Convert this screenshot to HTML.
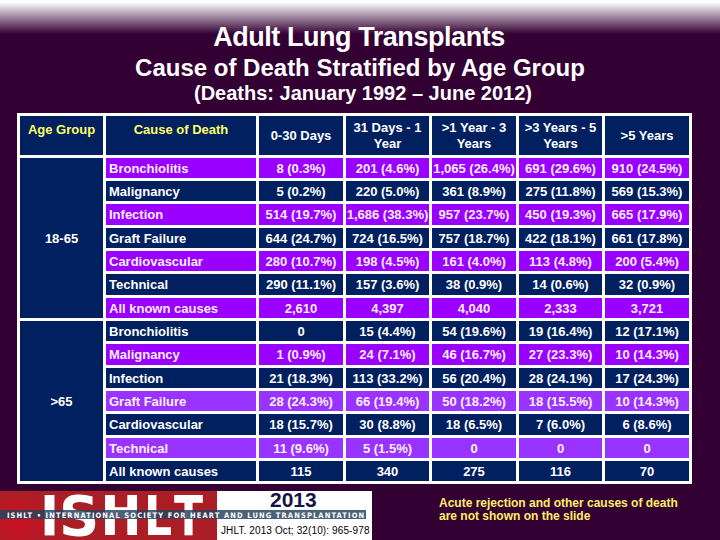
<!DOCTYPE html>
<html><head><meta charset="utf-8"><title>Adult Lung Transplants</title>
<style>
*{margin:0;padding:0;box-sizing:border-box}
html,body{width:720px;height:540px;overflow:hidden}
body{position:relative;background:#330033;font-family:"Liberation Sans",Arial,sans-serif;color:#fff}
#topgrad{position:absolute;left:0;top:0;width:720px;height:36px;background:linear-gradient(to bottom,#ffffff 0px,#ffffff 2px,#330033 34px,#330033 36px)}
.t{position:absolute;left:0;width:720px;text-align:center;white-space:nowrap;color:#fff}
#t1{top:22px;left:-1px;font-size:27px;font-weight:bold;line-height:30px;letter-spacing:-0.45px}
#t2{top:54px;font-size:24px;font-weight:bold;line-height:28px}
#t3{top:82px;left:3px;font-size:20px;font-weight:bold;line-height:22px}
#tbl{position:absolute;left:17px;top:113px;width:675px;height:371px;background:#fff}
.c{position:absolute;display:flex;font-size:13px;font-weight:bold;white-space:nowrap;color:#fff}
.c span{display:block}
.hy{color:#ffff66;justify-content:center;align-items:flex-start;line-height:15px;padding-top:6px}
.hw{justify-content:center;align-items:center;text-align:center;line-height:16px}
.ag{justify-content:center;align-items:center;line-height:15px}
.cz{justify-content:flex-start;align-items:center;padding-left:3px;line-height:15px}
.dv{justify-content:center;align-items:center;line-height:15px;overflow:visible}
.pk{color:#ffeeff}
#logo{position:absolute;left:0;top:490.5px;width:217px;height:50px;background:radial-gradient(ellipse 40px 30px at 18px 30px,rgba(220,10,35,0.7),rgba(220,10,35,0) 100%),#ab1e25;overflow:hidden}
#logo .L{position:absolute;top:-1.3px;font-family:"DejaVu Sans Condensed","DejaVu Sans",sans-serif;font-stretch:condensed;font-size:55px;font-weight:bold;color:#fff;line-height:55px;transform-origin:0 0}
#wbox{position:absolute;left:217px;top:490.5px;width:155px;height:50px;background:#fff}
#band{position:absolute;left:0;top:510.4px;width:366px;height:8.4px;background:rgba(40,66,93,0.83)}
#bandtxt{position:absolute;left:7px;top:510.6px;height:9px;line-height:9px;font-family:"DejaVu Sans Condensed","DejaVu Sans",sans-serif;font-stretch:condensed;font-size:7.5px;font-weight:bold;color:#fff;letter-spacing:1.11px;white-space:nowrap}
#yr{position:absolute;left:270px;top:489px;font-size:21px;font-weight:bold;color:#14144a;line-height:22px}
#jh{position:absolute;left:221px;top:524.8px;font-size:10px;color:#000;line-height:12px;letter-spacing:0.12px;white-space:nowrap}
#note{position:absolute;left:439px;top:497px;font-size:12px;font-weight:bold;color:#ffee66;line-height:13px;white-space:nowrap}
</style></head><body>
<div id="topgrad"></div>
<div class="t" id="t1">Adult Lung Transplants</div>
<div class="t" id="t2">Cause of Death Stratified by Age Group</div>
<div class="t" id="t3">(Deaths: January 1992 &ndash; June 2012)</div>
<div id="tbl"></div>
<div class="c hy" style="left:20px;top:116px;width:83px;height:39px;background:#00205f"><span>Age Group</span></div>
<div class="c hy" style="left:106px;top:116px;width:150px;height:39px;background:#00205f"><span>Cause of Death</span></div>
<div class="c hw" style="left:259px;top:116px;width:84px;height:39px;background:#00205f"><span>0-30 Days</span></div>
<div class="c hw" style="left:346px;top:116px;width:83px;height:39px;background:#00205f"><span>31 Days - 1<br>Year</span></div>
<div class="c hw" style="left:432px;top:116px;width:84px;height:39px;background:#00205f"><span>&gt;1 Year - 3<br>Years</span></div>
<div class="c hw" style="left:519px;top:116px;width:83px;height:39px;background:#00205f"><span>&gt;3 Years - 5<br>Years</span></div>
<div class="c hw" style="left:605px;top:116px;width:84px;height:39px;background:#00205f"><span>&gt;5 Years</span></div>
<div class="c ag" style="left:20px;top:158px;width:83px;height:160px;background:#00205f"><span>18-65</span></div>
<div class="c ag" style="left:20px;top:321px;width:83px;height:160px;background:#00205f"><span>&gt;65</span></div>
<div class="c cz pk" style="left:106px;top:158px;width:150px;height:20px;background:#9900ff"><span>Bronchiolitis</span></div>
<div class="c dv pk" style="left:259px;top:158px;width:84px;height:20px;background:#9900ff"><span>8 (0.3%)</span></div>
<div class="c dv pk" style="left:346px;top:158px;width:83px;height:20px;background:#9900ff"><span>201 (4.6%)</span></div>
<div class="c dv pk" style="left:432px;top:158px;width:84px;height:20px;background:#9900ff"><span>1,065 (26.4%)</span></div>
<div class="c dv pk" style="left:519px;top:158px;width:83px;height:20px;background:#9900ff"><span>691 (29.6%)</span></div>
<div class="c dv pk" style="left:605px;top:158px;width:84px;height:20px;background:#9900ff"><span>910 (24.5%)</span></div>
<div class="c cz" style="left:106px;top:181px;width:150px;height:20px;background:#00205f"><span>Malignancy</span></div>
<div class="c dv" style="left:259px;top:181px;width:84px;height:20px;background:#00205f"><span>5 (0.2%)</span></div>
<div class="c dv" style="left:346px;top:181px;width:83px;height:20px;background:#00205f"><span>220 (5.0%)</span></div>
<div class="c dv" style="left:432px;top:181px;width:84px;height:20px;background:#00205f"><span>361 (8.9%)</span></div>
<div class="c dv" style="left:519px;top:181px;width:83px;height:20px;background:#00205f"><span>275 (11.8%)</span></div>
<div class="c dv" style="left:605px;top:181px;width:84px;height:20px;background:#00205f"><span>569 (15.3%)</span></div>
<div class="c cz pk" style="left:106px;top:204px;width:150px;height:21px;background:#9900ff"><span>Infection</span></div>
<div class="c dv pk" style="left:259px;top:204px;width:84px;height:21px;background:#9900ff"><span>514 (19.7%)</span></div>
<div class="c dv pk" style="left:346px;top:204px;width:83px;height:21px;background:#9900ff"><span>1,686 (38.3%)</span></div>
<div class="c dv pk" style="left:432px;top:204px;width:84px;height:21px;background:#9900ff"><span>957 (23.7%)</span></div>
<div class="c dv pk" style="left:519px;top:204px;width:83px;height:21px;background:#9900ff"><span>450 (19.3%)</span></div>
<div class="c dv pk" style="left:605px;top:204px;width:84px;height:21px;background:#9900ff"><span>665 (17.9%)</span></div>
<div class="c cz" style="left:106px;top:228px;width:150px;height:20px;background:#00205f"><span>Graft Failure</span></div>
<div class="c dv" style="left:259px;top:228px;width:84px;height:20px;background:#00205f"><span>644 (24.7%)</span></div>
<div class="c dv" style="left:346px;top:228px;width:83px;height:20px;background:#00205f"><span>724 (16.5%)</span></div>
<div class="c dv" style="left:432px;top:228px;width:84px;height:20px;background:#00205f"><span>757 (18.7%)</span></div>
<div class="c dv" style="left:519px;top:228px;width:83px;height:20px;background:#00205f"><span>422 (18.1%)</span></div>
<div class="c dv" style="left:605px;top:228px;width:84px;height:20px;background:#00205f"><span>661 (17.8%)</span></div>
<div class="c cz pk" style="left:106px;top:251px;width:150px;height:20px;background:#9900ff"><span>Cardiovascular</span></div>
<div class="c dv pk" style="left:259px;top:251px;width:84px;height:20px;background:#9900ff"><span>280 (10.7%)</span></div>
<div class="c dv pk" style="left:346px;top:251px;width:83px;height:20px;background:#9900ff"><span>198 (4.5%)</span></div>
<div class="c dv pk" style="left:432px;top:251px;width:84px;height:20px;background:#9900ff"><span>161 (4.0%)</span></div>
<div class="c dv pk" style="left:519px;top:251px;width:83px;height:20px;background:#9900ff"><span>113 (4.8%)</span></div>
<div class="c dv pk" style="left:605px;top:251px;width:84px;height:20px;background:#9900ff"><span>200 (5.4%)</span></div>
<div class="c cz" style="left:106px;top:274px;width:150px;height:21px;background:#00205f"><span>Technical</span></div>
<div class="c dv" style="left:259px;top:274px;width:84px;height:21px;background:#00205f"><span>290 (11.1%)</span></div>
<div class="c dv" style="left:346px;top:274px;width:83px;height:21px;background:#00205f"><span>157 (3.6%)</span></div>
<div class="c dv" style="left:432px;top:274px;width:84px;height:21px;background:#00205f"><span>38 (0.9%)</span></div>
<div class="c dv" style="left:519px;top:274px;width:83px;height:21px;background:#00205f"><span>14 (0.6%)</span></div>
<div class="c dv" style="left:605px;top:274px;width:84px;height:21px;background:#00205f"><span>32 (0.9%)</span></div>
<div class="c cz pk" style="left:106px;top:298px;width:150px;height:20px;background:#9900ff"><span>All known causes</span></div>
<div class="c dv pk" style="left:259px;top:298px;width:84px;height:20px;background:#9900ff"><span>2,610</span></div>
<div class="c dv pk" style="left:346px;top:298px;width:83px;height:20px;background:#9900ff"><span>4,397</span></div>
<div class="c dv pk" style="left:432px;top:298px;width:84px;height:20px;background:#9900ff"><span>4,040</span></div>
<div class="c dv pk" style="left:519px;top:298px;width:83px;height:20px;background:#9900ff"><span>2,333</span></div>
<div class="c dv pk" style="left:605px;top:298px;width:84px;height:20px;background:#9900ff"><span>3,721</span></div>
<div class="c cz" style="left:106px;top:321px;width:150px;height:20px;background:#00205f"><span>Bronchiolitis</span></div>
<div class="c dv" style="left:259px;top:321px;width:84px;height:20px;background:#00205f"><span>0</span></div>
<div class="c dv" style="left:346px;top:321px;width:83px;height:20px;background:#00205f"><span>15 (4.4%)</span></div>
<div class="c dv" style="left:432px;top:321px;width:84px;height:20px;background:#00205f"><span>54 (19.6%)</span></div>
<div class="c dv" style="left:519px;top:321px;width:83px;height:20px;background:#00205f"><span>19 (16.4%)</span></div>
<div class="c dv" style="left:605px;top:321px;width:84px;height:20px;background:#00205f"><span>12 (17.1%)</span></div>
<div class="c cz pk" style="left:106px;top:344px;width:150px;height:21px;background:#9900ff"><span>Malignancy</span></div>
<div class="c dv pk" style="left:259px;top:344px;width:84px;height:21px;background:#9900ff"><span>1 (0.9%)</span></div>
<div class="c dv pk" style="left:346px;top:344px;width:83px;height:21px;background:#9900ff"><span>24 (7.1%)</span></div>
<div class="c dv pk" style="left:432px;top:344px;width:84px;height:21px;background:#9900ff"><span>46 (16.7%)</span></div>
<div class="c dv pk" style="left:519px;top:344px;width:83px;height:21px;background:#9900ff"><span>27 (23.3%)</span></div>
<div class="c dv pk" style="left:605px;top:344px;width:84px;height:21px;background:#9900ff"><span>10 (14.3%)</span></div>
<div class="c cz" style="left:106px;top:368px;width:150px;height:20px;background:#00205f"><span>Infection</span></div>
<div class="c dv" style="left:259px;top:368px;width:84px;height:20px;background:#00205f"><span>21 (18.3%)</span></div>
<div class="c dv" style="left:346px;top:368px;width:83px;height:20px;background:#00205f"><span>113 (33.2%)</span></div>
<div class="c dv" style="left:432px;top:368px;width:84px;height:20px;background:#00205f"><span>56 (20.4%)</span></div>
<div class="c dv" style="left:519px;top:368px;width:83px;height:20px;background:#00205f"><span>28 (24.1%)</span></div>
<div class="c dv" style="left:605px;top:368px;width:84px;height:20px;background:#00205f"><span>17 (24.3%)</span></div>
<div class="c cz pk" style="left:106px;top:391px;width:150px;height:20px;background:#9933ff"><span>Graft Failure</span></div>
<div class="c dv pk" style="left:259px;top:391px;width:84px;height:20px;background:#9933ff"><span>28 (24.3%)</span></div>
<div class="c dv pk" style="left:346px;top:391px;width:83px;height:20px;background:#9933ff"><span>66 (19.4%)</span></div>
<div class="c dv pk" style="left:432px;top:391px;width:84px;height:20px;background:#9933ff"><span>50 (18.2%)</span></div>
<div class="c dv pk" style="left:519px;top:391px;width:83px;height:20px;background:#9933ff"><span>18 (15.5%)</span></div>
<div class="c dv pk" style="left:605px;top:391px;width:84px;height:20px;background:#9933ff"><span>10 (14.3%)</span></div>
<div class="c cz" style="left:106px;top:414px;width:150px;height:21px;background:#00205f"><span>Cardiovascular</span></div>
<div class="c dv" style="left:259px;top:414px;width:84px;height:21px;background:#00205f"><span>18 (15.7%)</span></div>
<div class="c dv" style="left:346px;top:414px;width:83px;height:21px;background:#00205f"><span>30 (8.8%)</span></div>
<div class="c dv" style="left:432px;top:414px;width:84px;height:21px;background:#00205f"><span>18 (6.5%)</span></div>
<div class="c dv" style="left:519px;top:414px;width:83px;height:21px;background:#00205f"><span>7 (6.0%)</span></div>
<div class="c dv" style="left:605px;top:414px;width:84px;height:21px;background:#00205f"><span>6 (8.6%)</span></div>
<div class="c cz pk" style="left:106px;top:438px;width:150px;height:20px;background:#9933ff"><span>Technical</span></div>
<div class="c dv pk" style="left:259px;top:438px;width:84px;height:20px;background:#9933ff"><span>11 (9.6%)</span></div>
<div class="c dv pk" style="left:346px;top:438px;width:83px;height:20px;background:#9933ff"><span>5 (1.5%)</span></div>
<div class="c dv pk" style="left:432px;top:438px;width:84px;height:20px;background:#9933ff"><span>0</span></div>
<div class="c dv pk" style="left:519px;top:438px;width:83px;height:20px;background:#9933ff"><span>0</span></div>
<div class="c dv pk" style="left:605px;top:438px;width:84px;height:20px;background:#9933ff"><span>0</span></div>
<div class="c cz" style="left:106px;top:461px;width:150px;height:20px;background:#00205f"><span>All known causes</span></div>
<div class="c dv" style="left:259px;top:461px;width:84px;height:20px;background:#00205f"><span>115</span></div>
<div class="c dv" style="left:346px;top:461px;width:83px;height:20px;background:#00205f"><span>340</span></div>
<div class="c dv" style="left:432px;top:461px;width:84px;height:20px;background:#00205f"><span>275</span></div>
<div class="c dv" style="left:519px;top:461px;width:83px;height:20px;background:#00205f"><span>116</span></div>
<div class="c dv" style="left:605px;top:461px;width:84px;height:20px;background:#00205f"><span>70</span></div>

<div id="logo"><span class="L" style="left:40px;transform:scaleX(1.04)">I</span><span class="L" style="left:59.4px;transform:scaleX(1.13)">S</span><span class="L" style="left:100.75px;transform:scaleX(0.97);text-shadow:0 -3px 0 #fff,0 1px 0 #fff;clip-path:inset(5.8px 0 9.2px 0)">H</span><span class="L" style="left:143.85px;transform:scaleX(0.89)">L</span><span class="L" style="left:173.9px;transform:scaleX(0.86)">T</span></div>
<div id="wbox"></div>
<div id="yr">2013</div>
<div id="band"></div>
<div id="bandtxt">ISHLT &bull; INTERNATIONAL SOCIETY FOR HEART AND LUNG TRANSPLANTATION</div>
<div id="jh">JHLT. 2013 Oct; 32(10): 965-978</div>
<div id="note">Acute rejection and other causes of death<br>are not shown on the slide</div>
</body></html>
